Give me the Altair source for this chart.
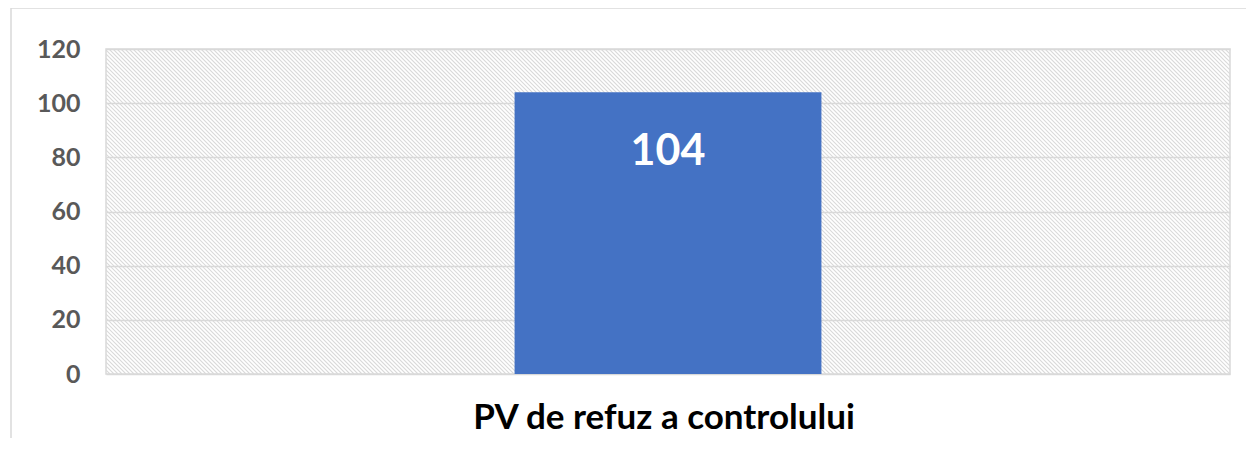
import altair as alt
import pandas as pd

categories = ["PV de refuz a controlului"]
values = [104]
y_ticks = [0, 20, 40, 60, 80, 100, 120]

df = pd.DataFrame({"cat": categories, "val": values})

W, H = 1124, 325
HATCH_STEP = 4

# background diagonal hatch (decoration only), built from a sequence in Vega-Lite
hatch = (
    alt.Chart(alt.sequence(0, (W + H) // HATCH_STEP + 2, as_="i"))
    .transform_calculate(
        hx0=f"datum.i * {HATCH_STEP} - {H}",
        hx1=f"datum.i * {HATCH_STEP}",
    )
    .mark_rule(stroke="#d9d9d9", strokeWidth=1.1, clip=True)
    .encode(
        x=alt.X("hx0:Q", scale=None),
        x2="hx1:Q",
        y=alt.value(0),
        y2=alt.value(H),
    )
)

base = alt.Chart(df)

outer = base.mark_rect(fill=None, stroke="#d9d9d9", strokeWidth=1.5).encode(
    x=alt.value(-95), x2=alt.value(W + 60), y=alt.value(-41), y2=alt.value(H + 120)
)

bars = base.mark_bar(color="#4472c4", width=alt.RelativeBandSize(0.273)).encode(
    x=alt.X(
        "cat:N",
        title=None,
        scale=alt.Scale(paddingInner=0, paddingOuter=0),
        axis=alt.Axis(
            labelAngle=0,
            labelFont="Lato",
            labelFontSize=35,
            labelFontWeight="bold",
            labelColor="#000000",
            labelPadding=26,
            labelLimit=0,
            labelOffset=-4,
            ticks=False,
            domain=False,
            grid=False,
        ),
    ),
    y=alt.Y(
        "val:Q",
        title=None,
        scale=alt.Scale(domain=[0, 120], nice=False),
        axis=alt.Axis(
            values=y_ticks,
            labelFont="Lato",
            labelFontSize=25,
            labelFontWeight="bold",
            labelColor="#595959",
            labelPadding=26,
            ticks=False,
            domain=False,
            gridColor="#d9d9d9",
            gridWidth=1.5,
        ),
    ),
)

labels = base.mark_text(
    font="Lato", fontSize=43, fontWeight="bold", color="white", baseline="top", dy=39
).encode(x="cat:N", y="val:Q", text="val:Q")

chart = (
    alt.layer(hatch, bars, labels, outer)
    .properties(
        width=W,
        height=H,
        padding={"left": 98, "top": 41, "right": 16, "bottom": 64},
        autosize=alt.AutoSizeParams(type="none"),
    )
    .configure_view(stroke="#d9d9d9", strokeWidth=1.5)
)

chart.save("out.html", embed_options={"renderer": "svg", "actions": False})
